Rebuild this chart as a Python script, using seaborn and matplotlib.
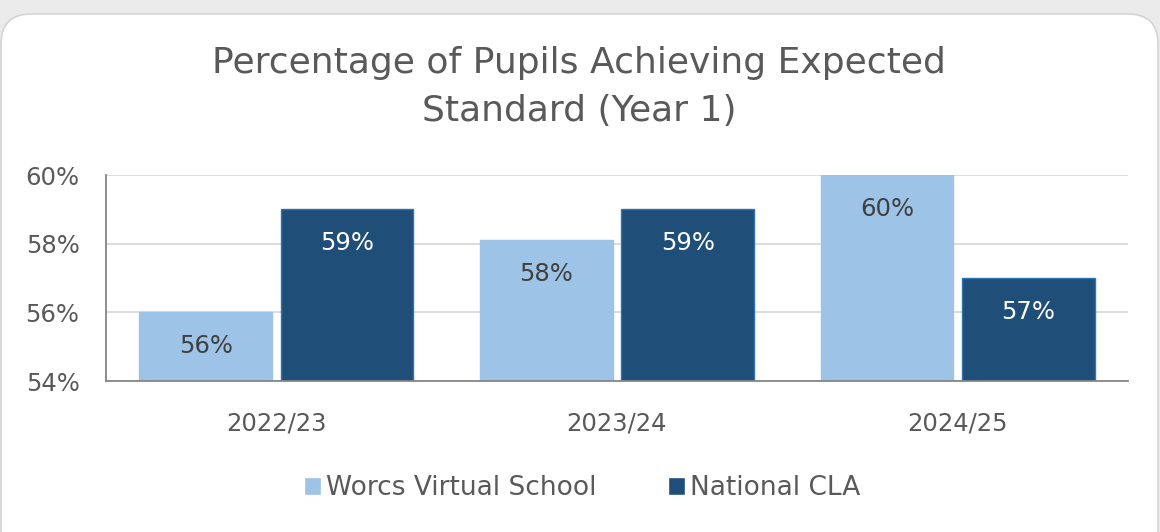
import matplotlib
matplotlib.use("Agg")
import matplotlib.pyplot as plt
from matplotlib.patches import FancyBboxPatch
from matplotlib.ticker import FuncFormatter, FixedLocator
import pandas as pd
import seaborn as sns

# ---------------------------------------------------------------------------
# Data
# ---------------------------------------------------------------------------
years = ["2022/23", "2023/24", "2024/25"]
worcs_pct = [56.0, 58.1, 60.0]
national_pct = [59.0, 59.0, 57.0]
series_names = ["Worcs Virtual School", "National CLA"]
y_ticks = [54, 56, 58, 60]

df = pd.DataFrame({
    "year": years * 2,
    "group": [series_names[0]] * len(years) + [series_names[1]] * len(years),
    "pct": worcs_pct + national_pct,
})

LIGHT = "#9DC3E6"
DARK = "#1F4E79"
TEXT = "#595959"
FS = 17.5

sns.set_theme(style="white")
plt.rcParams["font.family"] = ["DejaVu Sans"]

fig = plt.figure(figsize=(11.6, 5.32), dpi=100)
fig.patch.set_facecolor("#EBEBEB")

# rounded white card behind the chart
bg = fig.add_axes([0, 0, 1, 1], zorder=-10)
bg.set_xlim(0, 1160)
bg.set_ylim(532, 0)
bg.axis("off")
bg.add_patch(FancyBboxPatch((1, 14), 1157, 580,
                            boxstyle="round,pad=0,rounding_size=30",
                            fc="white", ec="#D4D4D4", lw=1.2))

ax = fig.add_axes([106 / 1160, 1 - 381 / 532, (1128 - 106) / 1160, (381 - 175) / 532])
ax.set_facecolor("none")

sns.barplot(data=df, x="year", y="pct", hue="group", palette=[LIGHT, DARK],
            width=0.83, gap=0.06, saturation=1, ax=ax)

for cont, edge in zip(ax.containers, [LIGHT, "#2E75B6"]):
    for bar in cont:
        bar.set_edgecolor(edge)
        bar.set_linewidth(1)

ax.set_ylim(54, 60)
ax.set_xlim(-0.5, 2.5)
ax.yaxis.set_major_locator(FixedLocator(y_ticks))
ax.yaxis.set_major_formatter(FuncFormatter(lambda v, _: f"{v:.0f}%"))
ax.yaxis.grid(True, color="#D9D9D9", lw=1.3)
ax.set_axisbelow(True)

ax.set_xlabel("")
ax.set_ylabel("")
for s in ["top", "right"]:
    ax.spines[s].set_visible(False)
for s in ["left", "bottom"]:
    ax.spines[s].set_color("#868686")
    ax.spines[s].set_linewidth(1.3)

ax.tick_params(axis="y", labelsize=FS, labelcolor=TEXT, length=0, pad=19)
ax.tick_params(axis="x", which="major", labelsize=FS, labelcolor=TEXT, length=0, pad=22)
ax.set_xticks([-0.5, 0.5, 1.5, 2.5], minor=True)
ax.tick_params(axis="x", which="minor", length=8, width=1.3, color="#868686", direction="out")

# data labels inside the bars
for cont, col in zip(ax.containers, ["#404040", "white"]):
    for bar in cont:
        h = bar.get_height()
        ax.annotate(f"{h:.0f}%", (bar.get_x() + bar.get_width() / 2, h),
                    xytext=(0, -34), textcoords="offset pixels",
                    ha="center", va="center", color=col, fontsize=FS)

# legend at the bottom
handles, labels = ax.get_legend_handles_labels()
ax.get_legend().remove()
fig.legend(handles, labels, loc="center", bbox_to_anchor=(582 / 1160, 1 - 488 / 532),
           ncol=2, frameon=False, fontsize=19, labelcolor=TEXT,
           handlelength=0.65, handleheight=0.65, handletextpad=0.2, columnspacing=2.7)

fig.text(579 / 1160, 1 - 87 / 532,
         "Percentage of Pupils Achieving Expected\nStandard (Year 1)",
         ha="center", va="center", fontsize=26, color=TEXT, linespacing=1.5)

fig.savefig("out.png", dpi=100, facecolor=fig.get_facecolor())
